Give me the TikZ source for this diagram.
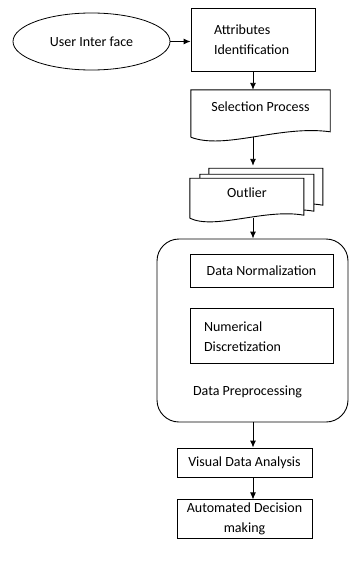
\documentclass[tikz,border=0pt]{standalone}
\usepackage{fontspec}
\setmainfont{Carlito}
\usetikzlibrary{arrows.meta,shapes,backgrounds,positioning,calc}

\begin{document}
\begin{tikzpicture}[x=1pt,y=-1pt]
        \tikzstyle{every node}=[font=\fontsize{14}{20}\selectfont]
        \tikzstyle{block}=[rectangle, draw=black, line width=0.9pt]
        \tikzstyle{outline}=[draw=black, line width=0.9pt]
        \tikzstyle{connect}=[-{Latex[length=7pt,width=6pt]}, line width=0.9pt]
        \useasboundingbox (0,0) rectangle (349,565);
        \node[ellipse,outline,line width=0.8pt,minimum width=157pt,minimum height=57pt] (ui) at (91.5,41.5) {User Inter face};
        \node[block,minimum width=124pt,minimum height=63pt,text width=78pt,align=left] (attr) at (253,39.5) {Attributes\\Identification};
        % document shapes, outline drawn from the anchors
        \node[minimum width=139pt,minimum height=47pt,text depth=14pt] (sel) at (260.5,113.5) {Selection Process};
        \draw[outline] (sel.south west) -- (sel.north west) -- (sel.north east) -- ++(0,42) .. controls +(-50,-7) and +(34,13) .. (sel.south west);
        \node[minimum width=114pt,minimum height=40pt,text depth=11pt] (out) at (247,198) {Outlier};
        \begin{scope}[on background layer]
          \foreach \dx/\dy in {19/-10,10/-4,0/0}
            \draw[outline,fill=white] ([shift={(\dx,\dy)}]out.south west) -- ++(0,-40) -- ++(114,0) -- ++(0,37) .. controls +(-39,-7) and +(25,12) .. ([shift={(\dx,\dy)}]out.south west);
        \end{scope}
        \coordinate (stacktop) at ($(attr.south |- out.north)+(0,-12)$);
        % preprocessing group
        \node[outline,rounded corners=22pt,minimum width=191pt,minimum height=183pt] (prep) at (252.5,330.5) {};
        \node[block,minimum width=143pt,minimum height=33pt] (norm) at (261.5,270.5) {Data Normalization};
        \node[block,minimum width=143pt,minimum height=55pt,text width=115pt,inner xsep=14pt,align=left] (disc) [below=21pt of norm] {Numerical\\Discretization};
        \node (preplabel) at (247.5,392) {Data Preprocessing};
        \node[block,minimum width=135pt,minimum height=29pt] (vis) at (244.5,462.5) {Visual Data Analysis};
        \node[block,minimum width=135pt,minimum height=38pt,align=center] (dec) [below=22pt of vis] {Automated Decision\\making};
        \path (ui.east) edge [connect] (ui.east -| attr.west)
        (attr.south) edge [connect] (attr.south |- sel.north)
        (attr.south |- sel.south) edge [connect] (stacktop)
        (attr.south |- out.south) edge [connect] (attr.south |- prep.north)
        (prep.south -| attr.south) edge [connect] (attr.south |- vis.north)
        (attr.south |- vis.south) edge [connect] (attr.south |- dec.north);
      \end{tikzpicture}
\end{document}
